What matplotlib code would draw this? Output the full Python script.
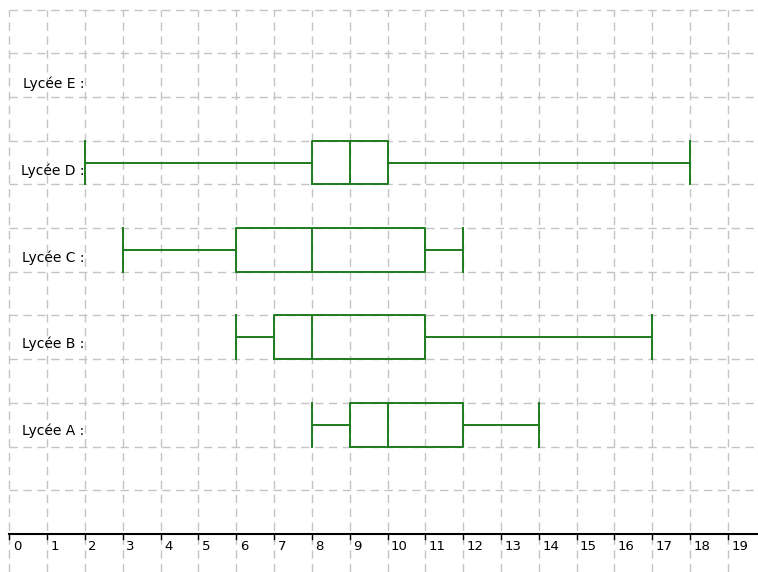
import numpy as np
import matplotlib
matplotlib.use('Agg')
from matplotlib import pyplot as plt

# five-number summaries
lycees = ['Lycée A', 'Lycée B', 'Lycée C', 'Lycée D']
mins = [8, 6, 3, 2]
q1s = [9, 7, 6, 8]
meds = [10, 8, 8, 9]
q3s = [12, 11, 11, 10]
maxs = [14, 17, 12, 18]
labels = ['Lycée A :', 'Lycée B :', 'Lycée C :', 'Lycée D :', 'Lycée E :']
xticks = list(range(0, 20))

green = '#1e7b1e'
gridcol = '#c4c4c4'

fig = plt.figure(figsize=(7.58, 5.72), dpi=100)
ax = fig.add_axes([0, 0, 1, 1])
ax.set_xlim(-0.25, 19.8)
ax.set_ylim(-0.87, 12.22)
ax.axis('off')

# dashed grid
ax.vlines(xticks, -0.87, 12, colors=gridcol, linestyles=(0, (6, 4)), lw=1, zorder=0)
ax.hlines(np.arange(1, 13), 0, 19.8, colors=gridcol, linestyles=(0, (6, 4)), lw=1, zorder=0)

stats = []
for i in range(len(lycees)):
    stats.append({'label': lycees[i], 'whislo': mins[i], 'q1': q1s[i], 'med': meds[i],
                  'q3': q3s[i], 'whishi': maxs[i], 'fliers': []})
pos = [2.5 + 2 * i for i in range(len(lycees))]
lp = dict(color=green, lw=1.4)
ax.bxp(stats, positions=pos, widths=1, capwidths=1, orientation='horizontal',
       showfliers=False, boxprops=lp, whiskerprops=lp, capprops=lp, medianprops=lp,
       manage_ticks=False)

for i, lab in enumerate(labels):
    ax.text(1.98, 2.36 + 1.985 * i, lab, ha='right', va='center', fontsize=10)

# x axis
ax.plot([0, 19.8], [0, 0], color='black', lw=1.5, zorder=3)
for t in xticks:
    ax.plot([t, t], [0, -0.12], color='black', lw=1, zorder=3)
    ax.text(t + 0.09, -0.14, str(t), ha='left', va='top', fontsize=9.5)

fig.savefig('out.png', dpi=100)
